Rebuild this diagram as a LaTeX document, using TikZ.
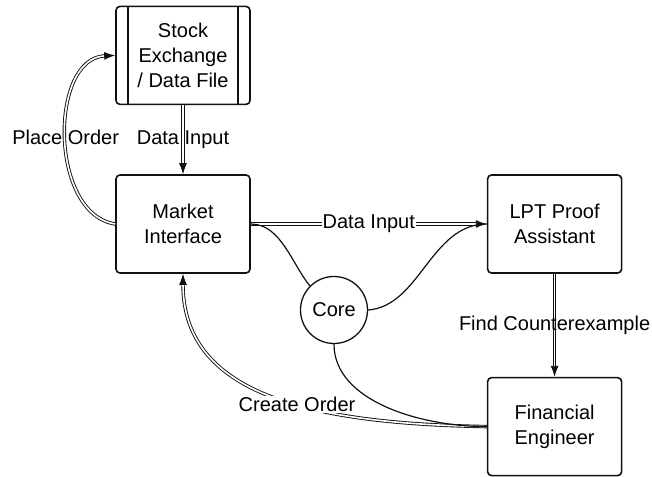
\documentclass[tikz,border=0pt]{standalone}
\usepackage{fontspec}
\setmainfont{Liberation Sans}
\usepackage{tikz}
\usetikzlibrary{arrows.meta,positioning}
\definecolor{flowInk}{HTML}{111111}
\newcommand\flowfont{\fontsize{20}{25}\selectfont}
\tikzset{
  flowbox/.style={draw=flowInk, rounded corners=4pt, line width=1.6pt, align=center, minimum width=134pt, minimum height=98pt, inner sep=4pt, font=\flowfont},
  flowcore/.style={circle, draw=flowInk, line width=1.3pt, minimum size=67pt, inner sep=0pt, font=\flowfont},
  flowpipe/.style={draw=flowInk, double, double distance=1.6pt, line width=0.9pt, -{Latex[length=11pt,width=8pt]}},
  flowwire/.style={draw=flowInk, line width=1.2pt},
  flowlabel/.style={font=\flowfont, inner sep=1pt}
}

\begin{document}
\begin{tikzpicture}[x=1pt, y=-1pt]
    \useasboundingbox (0,0) rectangle (652,476);

    \node[flowbox] (market) at (183,224) {Market\\Interface};
    \node[flowbox, above=69pt of market] (stock) {Stock\\Exchange\\/ Data File};
    \node[flowbox, right=236pt of market] (lpt) {LPT Proof\\Assistant};
    \node[flowbox, below=103pt of lpt] (engineer) {Financial\\Engineer};
    \node[flowcore] (core) at (334,310) {Core};

    % side bars of the data source box
    \draw[flowInk, line width=1.6pt] ([xshift=13pt]stock.north west) -- ([xshift=13pt]stock.south west);
    \draw[flowInk, line width=1.6pt] ([xshift=-13pt]stock.north east) -- ([xshift=-13pt]stock.south east);

    \draw[flowpipe] (stock) -- node[flowlabel]{Data Input} (market);
    \draw[flowpipe] (market.east) -- node[flowlabel, fill=white]{Data Input} (lpt.west);
    \draw[flowpipe] (lpt) -- node[flowlabel]{Find Counterexample} (engineer);
    \draw[flowpipe] (market.west) .. controls +(-66,-10) and +(-66,3) .. (stock.west)
      node[flowlabel, pos=0.5]{Place Order};
    \draw[flowpipe] (engineer.west) .. controls +(-166,-3) and +(0,125) .. (market.south)
      node[flowlabel, fill=white, pos=0.43]{Create Order};

    \draw[flowwire] (market.east) .. controls +(30,0) and +(-18,-22) .. (core.135);
    \draw[flowwire] (core.east) .. controls +(52,-4) and +(-56,0) .. (lpt.west);
    \draw[flowwire] (core.south) .. controls +(0,57) and +(-66,0) .. (engineer.west);
  \end{tikzpicture}
\end{document}
